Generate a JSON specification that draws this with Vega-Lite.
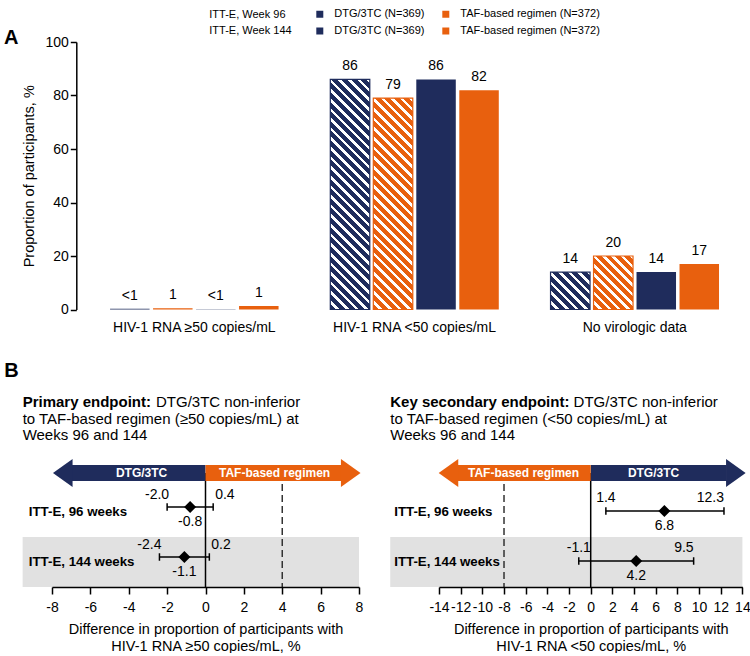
{
  "$schema": "https://vega.github.io/schema/vega-lite/v6.json",
  "padding": {"left": 3, "top": 8, "right": 0, "bottom": 0},
  "spacing": 26,
  "config": {
    "font": "Liberation Sans",
    "view": {"stroke": null},
    "locale": {"number": {"decimal": ".", "thousands": ",", "grouping": [3], "currency": ["$", ""], "minus": "-"}},
    "axis": {"labelColor": "black", "titleColor": "black", "domainColor": "black", "tickColor": "black", "grid": false, "labelOverlap": false},
    "title": {"color": "black", "subtitleColor": "black"}
  },
  "vconcat": [
    {
      "width": 694.3,
      "height": 267.5,
      "title": {"text": "A", "anchor": "start", "fontSize": 20, "fontWeight": "bold", "dx": -18, "offset": -13},
      "data": {"values": [
        {"category": "HIV-1 RNA ≥50 copies/mL", "series": "DTG/3TC (N=369), Week 96", "value": 0.3, "label": "<1"},
        {"category": "HIV-1 RNA ≥50 copies/mL", "series": "TAF-based regimen (N=372), Week 96", "value": 0.5, "label": "1"},
        {"category": "HIV-1 RNA ≥50 copies/mL", "series": "DTG/3TC (N=369), Week 144", "value": 0.1, "label": "<1"},
        {"category": "HIV-1 RNA ≥50 copies/mL", "series": "TAF-based regimen (N=372), Week 144", "value": 1.3, "label": "1"},
        {"category": "HIV-1 RNA <50 copies/mL", "series": "DTG/3TC (N=369), Week 96", "value": 86, "label": "86"},
        {"category": "HIV-1 RNA <50 copies/mL", "series": "TAF-based regimen (N=372), Week 96", "value": 79, "label": "79"},
        {"category": "HIV-1 RNA <50 copies/mL", "series": "DTG/3TC (N=369), Week 144", "value": 86, "label": "86"},
        {"category": "HIV-1 RNA <50 copies/mL", "series": "TAF-based regimen (N=372), Week 144", "value": 82, "label": "82"},
        {"category": "No virologic data", "series": "DTG/3TC (N=369), Week 96", "value": 14, "label": "14"},
        {"category": "No virologic data", "series": "TAF-based regimen (N=372), Week 96", "value": 20, "label": "20"},
        {"category": "No virologic data", "series": "DTG/3TC (N=369), Week 144", "value": 14, "label": "14"},
        {"category": "No virologic data", "series": "TAF-based regimen (N=372), Week 144", "value": 17, "label": "17"}
      ]},
      "encoding": {
        "y": {"field": "value", "type": "quantitative", "scale": {"domain": [0, 100], "nice": false},
              "axis": {"values": [0, 20, 40, 60, 80, 100], "tickCount": 20, "offset": -24.3, "title": "Proportion of participants, %", "titleFontSize": 14.5, "titleFontWeight": "normal", "titlePadding": 8, "labelFontSize": 14, "labelPadding": 2, "tickSize": 6, "tickWidth": 1.5, "domainWidth": 1.5}}
      },
      "resolve": {"scale": {"x": "independent"}},
      "layer": [
        {
          "encoding": {
            "x": {"field": "category", "type": "nominal", "sort": ["HIV-1 RNA ≥50 copies/mL", "HIV-1 RNA <50 copies/mL", "No virologic data"],
                  "scale": {"paddingInner": 0, "paddingOuter": 0.0763, "align": 0.958},
                  "axis": {"title": null, "ticks": false, "domain": false, "labelAngle": 0, "labelFontSize": 14, "labelPadding": 11}},
            "xOffset": {"field": "series", "type": "nominal", "sort": ["DTG/3TC (N=369), Week 96", "TAF-based regimen (N=372), Week 96", "DTG/3TC (N=369), Week 144", "TAF-based regimen (N=372), Week 144"],
                  "scale": {"paddingInner": 0.0814, "paddingOuter": 0.6017}}
          },
          "layer": [
            {
              "mark": {"type": "bar"},
              "encoding": {
                "color": {"field": "series", "type": "nominal",
                  "scale": {"domain": ["DTG/3TC (N=369), Week 96", "DTG/3TC (N=369), Week 144", "TAF-based regimen (N=372), Week 96", "TAF-based regimen (N=372), Week 144"], "range": ["#1f2c5c", "#1f2c5c", "#e8600e", "#e8600e"]},
                  "legend": {
                    "orient": "none", "legendX": 157.3, "legendY": -33.5, "columns": 2, "padding": 0,
                    "title": ["ITT-E, Week 96", "ITT-E, Week 144"], "titleOrient": "left", "titleFontSize": 11, "titleFontWeight": "normal", "titleLineHeight": 16, "titlePadding": 22, "titleColor": "black",
                    "labelFontSize": 11, "labelColor": "black", "labelOffset": 9, "labelExpr": "split(datum.value, ',')[0]",
                    "symbolType": "square", "symbolSize": 49, "symbolStrokeWidth": 0, "rowPadding": 5, "columnPadding": 15
                  }
                }
              }
            },
            {
              "transform": [{"filter": "datum.series == 'DTG/3TC (N=369), Week 96' && datum.category == 'HIV-1 RNA <50 copies/mL'"}],
              "mark": {"type": "bar", "stroke": "#1f2c5c", "strokeWidth": 1.2, "fill": {"gradient": "linear", "x1": 0, "y1": 1, "x2": 0.19542, "y2": -0.13815, "stops": [
                {"offset": 0, "color": "#1f2c5c"}, {"offset": 0.0221, "color": "#1f2c5c"}, {"offset": 0.0221, "color": "#fff"}, {"offset": 0.0357, "color": "#fff"},
                {"offset": 0.0357, "color": "#1f2c5c"}, {"offset": 0.0579, "color": "#1f2c5c"}, {"offset": 0.0579, "color": "#fff"}, {"offset": 0.0714, "color": "#fff"},
                {"offset": 0.0714, "color": "#1f2c5c"}, {"offset": 0.0936, "color": "#1f2c5c"}, {"offset": 0.0936, "color": "#fff"}, {"offset": 0.1071, "color": "#fff"},
                {"offset": 0.1071, "color": "#1f2c5c"}, {"offset": 0.1293, "color": "#1f2c5c"}, {"offset": 0.1293, "color": "#fff"}, {"offset": 0.1429, "color": "#fff"},
                {"offset": 0.1429, "color": "#1f2c5c"}, {"offset": 0.165, "color": "#1f2c5c"}, {"offset": 0.165, "color": "#fff"}, {"offset": 0.1786, "color": "#fff"},
                {"offset": 0.1786, "color": "#1f2c5c"}, {"offset": 0.2007, "color": "#1f2c5c"}, {"offset": 0.2007, "color": "#fff"}, {"offset": 0.2143, "color": "#fff"},
                {"offset": 0.2143, "color": "#1f2c5c"}, {"offset": 0.2364, "color": "#1f2c5c"}, {"offset": 0.2364, "color": "#fff"}, {"offset": 0.25, "color": "#fff"},
                {"offset": 0.25, "color": "#1f2c5c"}, {"offset": 0.2721, "color": "#1f2c5c"}, {"offset": 0.2721, "color": "#fff"}, {"offset": 0.2857, "color": "#fff"},
                {"offset": 0.2857, "color": "#1f2c5c"}, {"offset": 0.3079, "color": "#1f2c5c"}, {"offset": 0.3079, "color": "#fff"}, {"offset": 0.3214, "color": "#fff"},
                {"offset": 0.3214, "color": "#1f2c5c"}, {"offset": 0.3436, "color": "#1f2c5c"}, {"offset": 0.3436, "color": "#fff"}, {"offset": 0.3571, "color": "#fff"},
                {"offset": 0.3571, "color": "#1f2c5c"}, {"offset": 0.3793, "color": "#1f2c5c"}, {"offset": 0.3793, "color": "#fff"}, {"offset": 0.3929, "color": "#fff"},
                {"offset": 0.3929, "color": "#1f2c5c"}, {"offset": 0.415, "color": "#1f2c5c"}, {"offset": 0.415, "color": "#fff"}, {"offset": 0.4286, "color": "#fff"},
                {"offset": 0.4286, "color": "#1f2c5c"}, {"offset": 0.4507, "color": "#1f2c5c"}, {"offset": 0.4507, "color": "#fff"}, {"offset": 0.4643, "color": "#fff"},
                {"offset": 0.4643, "color": "#1f2c5c"}, {"offset": 0.4864, "color": "#1f2c5c"}, {"offset": 0.4864, "color": "#fff"}, {"offset": 0.5, "color": "#fff"},
                {"offset": 0.5, "color": "#1f2c5c"}, {"offset": 0.5221, "color": "#1f2c5c"}, {"offset": 0.5221, "color": "#fff"}, {"offset": 0.5357, "color": "#fff"},
                {"offset": 0.5357, "color": "#1f2c5c"}, {"offset": 0.5579, "color": "#1f2c5c"}, {"offset": 0.5579, "color": "#fff"}, {"offset": 0.5714, "color": "#fff"},
                {"offset": 0.5714, "color": "#1f2c5c"}, {"offset": 0.5936, "color": "#1f2c5c"}, {"offset": 0.5936, "color": "#fff"}, {"offset": 0.6071, "color": "#fff"},
                {"offset": 0.6071, "color": "#1f2c5c"}, {"offset": 0.6293, "color": "#1f2c5c"}, {"offset": 0.6293, "color": "#fff"}, {"offset": 0.6429, "color": "#fff"},
                {"offset": 0.6429, "color": "#1f2c5c"}, {"offset": 0.665, "color": "#1f2c5c"}, {"offset": 0.665, "color": "#fff"}, {"offset": 0.6786, "color": "#fff"},
                {"offset": 0.6786, "color": "#1f2c5c"}, {"offset": 0.7007, "color": "#1f2c5c"}, {"offset": 0.7007, "color": "#fff"}, {"offset": 0.7143, "color": "#fff"},
                {"offset": 0.7143, "color": "#1f2c5c"}, {"offset": 0.7364, "color": "#1f2c5c"}, {"offset": 0.7364, "color": "#fff"}, {"offset": 0.75, "color": "#fff"},
                {"offset": 0.75, "color": "#1f2c5c"}, {"offset": 0.7721, "color": "#1f2c5c"}, {"offset": 0.7721, "color": "#fff"}, {"offset": 0.7857, "color": "#fff"},
                {"offset": 0.7857, "color": "#1f2c5c"}, {"offset": 0.8079, "color": "#1f2c5c"}, {"offset": 0.8079, "color": "#fff"}, {"offset": 0.8214, "color": "#fff"},
                {"offset": 0.8214, "color": "#1f2c5c"}, {"offset": 0.8436, "color": "#1f2c5c"}, {"offset": 0.8436, "color": "#fff"}, {"offset": 0.8571, "color": "#fff"},
                {"offset": 0.8571, "color": "#1f2c5c"}, {"offset": 0.8793, "color": "#1f2c5c"}, {"offset": 0.8793, "color": "#fff"}, {"offset": 0.8929, "color": "#fff"},
                {"offset": 0.8929, "color": "#1f2c5c"}, {"offset": 0.915, "color": "#1f2c5c"}, {"offset": 0.915, "color": "#fff"}, {"offset": 0.9286, "color": "#fff"},
                {"offset": 0.9286, "color": "#1f2c5c"}, {"offset": 0.9507, "color": "#1f2c5c"}, {"offset": 0.9507, "color": "#fff"}, {"offset": 0.9643, "color": "#fff"},
                {"offset": 0.9643, "color": "#1f2c5c"}, {"offset": 0.9864, "color": "#1f2c5c"}, {"offset": 0.9864, "color": "#fff"}, {"offset": 1, "color": "#fff"}
              ]}}
            },
            {
              "transform": [{"filter": "datum.series == 'TAF-based regimen (N=372), Week 96' && datum.category == 'HIV-1 RNA <50 copies/mL'"}],
              "mark": {"type": "bar", "stroke": "#e8600e", "strokeWidth": 1.2, "fill": {"gradient": "linear", "x1": 0, "y1": 1, "x2": 0.21436, "y2": -0.14685, "stops": [
                {"offset": 0, "color": "#e8600e"}, {"offset": 0.0238, "color": "#e8600e"}, {"offset": 0.0238, "color": "#fff"}, {"offset": 0.0385, "color": "#fff"},
                {"offset": 0.0385, "color": "#e8600e"}, {"offset": 0.0623, "color": "#e8600e"}, {"offset": 0.0623, "color": "#fff"}, {"offset": 0.0769, "color": "#fff"},
                {"offset": 0.0769, "color": "#e8600e"}, {"offset": 0.1008, "color": "#e8600e"}, {"offset": 0.1008, "color": "#fff"}, {"offset": 0.1154, "color": "#fff"},
                {"offset": 0.1154, "color": "#e8600e"}, {"offset": 0.1392, "color": "#e8600e"}, {"offset": 0.1392, "color": "#fff"}, {"offset": 0.1538, "color": "#fff"},
                {"offset": 0.1538, "color": "#e8600e"}, {"offset": 0.1777, "color": "#e8600e"}, {"offset": 0.1777, "color": "#fff"}, {"offset": 0.1923, "color": "#fff"},
                {"offset": 0.1923, "color": "#e8600e"}, {"offset": 0.2162, "color": "#e8600e"}, {"offset": 0.2162, "color": "#fff"}, {"offset": 0.2308, "color": "#fff"},
                {"offset": 0.2308, "color": "#e8600e"}, {"offset": 0.2546, "color": "#e8600e"}, {"offset": 0.2546, "color": "#fff"}, {"offset": 0.2692, "color": "#fff"},
                {"offset": 0.2692, "color": "#e8600e"}, {"offset": 0.2931, "color": "#e8600e"}, {"offset": 0.2931, "color": "#fff"}, {"offset": 0.3077, "color": "#fff"},
                {"offset": 0.3077, "color": "#e8600e"}, {"offset": 0.3315, "color": "#e8600e"}, {"offset": 0.3315, "color": "#fff"}, {"offset": 0.3462, "color": "#fff"},
                {"offset": 0.3462, "color": "#e8600e"}, {"offset": 0.37, "color": "#e8600e"}, {"offset": 0.37, "color": "#fff"}, {"offset": 0.3846, "color": "#fff"},
                {"offset": 0.3846, "color": "#e8600e"}, {"offset": 0.4085, "color": "#e8600e"}, {"offset": 0.4085, "color": "#fff"}, {"offset": 0.4231, "color": "#fff"},
                {"offset": 0.4231, "color": "#e8600e"}, {"offset": 0.4469, "color": "#e8600e"}, {"offset": 0.4469, "color": "#fff"}, {"offset": 0.4615, "color": "#fff"},
                {"offset": 0.4615, "color": "#e8600e"}, {"offset": 0.4854, "color": "#e8600e"}, {"offset": 0.4854, "color": "#fff"}, {"offset": 0.5, "color": "#fff"},
                {"offset": 0.5, "color": "#e8600e"}, {"offset": 0.5238, "color": "#e8600e"}, {"offset": 0.5238, "color": "#fff"}, {"offset": 0.5385, "color": "#fff"},
                {"offset": 0.5385, "color": "#e8600e"}, {"offset": 0.5623, "color": "#e8600e"}, {"offset": 0.5623, "color": "#fff"}, {"offset": 0.5769, "color": "#fff"},
                {"offset": 0.5769, "color": "#e8600e"}, {"offset": 0.6008, "color": "#e8600e"}, {"offset": 0.6008, "color": "#fff"}, {"offset": 0.6154, "color": "#fff"},
                {"offset": 0.6154, "color": "#e8600e"}, {"offset": 0.6392, "color": "#e8600e"}, {"offset": 0.6392, "color": "#fff"}, {"offset": 0.6538, "color": "#fff"},
                {"offset": 0.6538, "color": "#e8600e"}, {"offset": 0.6777, "color": "#e8600e"}, {"offset": 0.6777, "color": "#fff"}, {"offset": 0.6923, "color": "#fff"},
                {"offset": 0.6923, "color": "#e8600e"}, {"offset": 0.7162, "color": "#e8600e"}, {"offset": 0.7162, "color": "#fff"}, {"offset": 0.7308, "color": "#fff"},
                {"offset": 0.7308, "color": "#e8600e"}, {"offset": 0.7546, "color": "#e8600e"}, {"offset": 0.7546, "color": "#fff"}, {"offset": 0.7692, "color": "#fff"},
                {"offset": 0.7692, "color": "#e8600e"}, {"offset": 0.7931, "color": "#e8600e"}, {"offset": 0.7931, "color": "#fff"}, {"offset": 0.8077, "color": "#fff"},
                {"offset": 0.8077, "color": "#e8600e"}, {"offset": 0.8315, "color": "#e8600e"}, {"offset": 0.8315, "color": "#fff"}, {"offset": 0.8462, "color": "#fff"},
                {"offset": 0.8462, "color": "#e8600e"}, {"offset": 0.87, "color": "#e8600e"}, {"offset": 0.87, "color": "#fff"}, {"offset": 0.8846, "color": "#fff"},
                {"offset": 0.8846, "color": "#e8600e"}, {"offset": 0.9085, "color": "#e8600e"}, {"offset": 0.9085, "color": "#fff"}, {"offset": 0.9231, "color": "#fff"},
                {"offset": 0.9231, "color": "#e8600e"}, {"offset": 0.9469, "color": "#e8600e"}, {"offset": 0.9469, "color": "#fff"}, {"offset": 0.9615, "color": "#fff"},
                {"offset": 0.9615, "color": "#e8600e"}, {"offset": 0.9854, "color": "#e8600e"}, {"offset": 0.9854, "color": "#fff"}, {"offset": 1, "color": "#fff"}
              ]}}
            },
            {
              "transform": [{"filter": "datum.series == 'DTG/3TC (N=369), Week 96' && datum.category == 'No virologic data'"}],
              "mark": {"type": "bar", "stroke": "#1f2c5c", "strokeWidth": 1.2, "fill": {"gradient": "linear", "x1": 0, "y1": 1, "x2": 1.02591, "y2": 0.02733, "stops": [
                {"offset": 0, "color": "#1f2c5c"}, {"offset": 0.0775, "color": "#1f2c5c"}, {"offset": 0.0775, "color": "#fff"}, {"offset": 0.125, "color": "#fff"},
                {"offset": 0.125, "color": "#1f2c5c"}, {"offset": 0.2025, "color": "#1f2c5c"}, {"offset": 0.2025, "color": "#fff"}, {"offset": 0.25, "color": "#fff"},
                {"offset": 0.25, "color": "#1f2c5c"}, {"offset": 0.3275, "color": "#1f2c5c"}, {"offset": 0.3275, "color": "#fff"}, {"offset": 0.375, "color": "#fff"},
                {"offset": 0.375, "color": "#1f2c5c"}, {"offset": 0.4525, "color": "#1f2c5c"}, {"offset": 0.4525, "color": "#fff"}, {"offset": 0.5, "color": "#fff"},
                {"offset": 0.5, "color": "#1f2c5c"}, {"offset": 0.5775, "color": "#1f2c5c"}, {"offset": 0.5775, "color": "#fff"}, {"offset": 0.625, "color": "#fff"},
                {"offset": 0.625, "color": "#1f2c5c"}, {"offset": 0.7025, "color": "#1f2c5c"}, {"offset": 0.7025, "color": "#fff"}, {"offset": 0.75, "color": "#fff"},
                {"offset": 0.75, "color": "#1f2c5c"}, {"offset": 0.8275, "color": "#1f2c5c"}, {"offset": 0.8275, "color": "#fff"}, {"offset": 0.875, "color": "#fff"},
                {"offset": 0.875, "color": "#1f2c5c"}, {"offset": 0.9525, "color": "#1f2c5c"}, {"offset": 0.9525, "color": "#fff"}, {"offset": 1, "color": "#fff"}
              ]}}
            },
            {
              "transform": [{"filter": "datum.series == 'TAF-based regimen (N=372), Week 96' && datum.category == 'No virologic data'"}],
              "mark": {"type": "bar", "stroke": "#e8600e", "strokeWidth": 1.2, "fill": {"gradient": "linear", "x1": 0, "y1": 1, "x2": 0.83064, "y2": -0.12505, "stops": [
                {"offset": 0, "color": "#e8600e"}, {"offset": 0.062, "color": "#e8600e"}, {"offset": 0.062, "color": "#fff"}, {"offset": 0.1, "color": "#fff"},
                {"offset": 0.1, "color": "#e8600e"}, {"offset": 0.162, "color": "#e8600e"}, {"offset": 0.162, "color": "#fff"}, {"offset": 0.2, "color": "#fff"},
                {"offset": 0.2, "color": "#e8600e"}, {"offset": 0.262, "color": "#e8600e"}, {"offset": 0.262, "color": "#fff"}, {"offset": 0.3, "color": "#fff"},
                {"offset": 0.3, "color": "#e8600e"}, {"offset": 0.362, "color": "#e8600e"}, {"offset": 0.362, "color": "#fff"}, {"offset": 0.4, "color": "#fff"},
                {"offset": 0.4, "color": "#e8600e"}, {"offset": 0.462, "color": "#e8600e"}, {"offset": 0.462, "color": "#fff"}, {"offset": 0.5, "color": "#fff"},
                {"offset": 0.5, "color": "#e8600e"}, {"offset": 0.562, "color": "#e8600e"}, {"offset": 0.562, "color": "#fff"}, {"offset": 0.6, "color": "#fff"},
                {"offset": 0.6, "color": "#e8600e"}, {"offset": 0.662, "color": "#e8600e"}, {"offset": 0.662, "color": "#fff"}, {"offset": 0.7, "color": "#fff"},
                {"offset": 0.7, "color": "#e8600e"}, {"offset": 0.762, "color": "#e8600e"}, {"offset": 0.762, "color": "#fff"}, {"offset": 0.8, "color": "#fff"},
                {"offset": 0.8, "color": "#e8600e"}, {"offset": 0.862, "color": "#e8600e"}, {"offset": 0.862, "color": "#fff"}, {"offset": 0.9, "color": "#fff"},
                {"offset": 0.9, "color": "#e8600e"}, {"offset": 0.962, "color": "#e8600e"}, {"offset": 0.962, "color": "#fff"}, {"offset": 1, "color": "#fff"}
              ]}}
            },
            {
              "mark": {"type": "text", "fontSize": 14, "baseline": "alphabetic", "dy": -9, "color": "black"},
              "encoding": {"text": {"field": "label", "type": "nominal"}}
            }
          ]
        },
        {
          "data": {"values": [{"from": 0.035, "to": 1}]},
          "mark": {"type": "rule", "color": "black", "strokeWidth": 1.5},
          "encoding": {
            "x": {"field": "from", "type": "quantitative", "scale": {"domain": [0, 1], "nice": false}, "axis": null},
            "x2": {"field": "to"},
            "y": {"datum": 0}
          }
        }
      ]
    },
    {
      "title": {"text": "B", "anchor": "start", "fontSize": 20, "fontWeight": "bold", "dx": -18.3, "offset": 14.3},
      "spacing": 27,
      "hconcat": [
        {
          "width": 307,
          "height": 150,
          "title": {"text": "Primary endpoint:", "subtitle": ["\u200b\u00a0\u00a0\u00a0\u00a0\u00a0\u00a0\u00a0\u00a0\u00a0\u00a0\u00a0\u00a0\u00a0\u00a0\u00a0\u00a0\u00a0\u00a0\u00a0\u00a0\u00a0\u00a0\u00a0\u00a0\u00a0\u00a0\u00a0\u00a0\u00a0\u00a0\u00a0\u00a0DTG/3TC non-inferior", "to TAF-based regimen (≥50 copies/mL) at", "Weeks 96 and 144"],
            "anchor": "start", "fontSize": 15, "fontWeight": "bold", "subtitleFontSize": 15, "subtitleFontWeight": "normal", "subtitleLineHeight": 16.3, "subtitlePadding": -15, "offset": -6},
          "data": {"values": [
            {"row": "ITT-E, 96 weeks", "est": -0.8, "lo": -2.0, "hi": 0.4},
            {"row": "ITT-E, 144 weeks", "est": -1.1, "lo": -2.4, "hi": 0.2}
          ]},
          "layer": [
            {
              "data": {"values": [{"row": "ITT-E, 144 weeks", "from": -9.53, "to": 8}]},
              "mark": {"type": "bar", "color": "#e1e1e1"},
              "encoding": {
                "y": {"field": "row", "type": "nominal", "scale": {"domain": ["arrow", "ITT-E, 96 weeks", "ITT-E, 144 weeks"], "paddingInner": 0, "paddingOuter": 0},
                      "axis": {"title": null, "domain": false, "ticks": false, "labelAlign": "left", "labelPadding": 23.7, "labelFontSize": 13.3, "labelFontWeight": "bold", "labelColor": "black", "labelExpr": "datum.value == 'arrow' ? '' : datum.value", "zindex": 1}},
                "x": {"field": "from", "type": "quantitative", "scale": {"domain": [-8, 8], "nice": false},
                      "axis": {"values": [-8, -6, -4, -2, 0, 2, 4, 6, 8], "tickCount": 20, "title": ["Difference in proportion of participants with", "HIV-1 RNA ≥50 copies/mL, %"], "titleFontSize": 14.5, "titleFontWeight": "normal", "titleLineHeight": 17, "titlePadding": 8, "labelFontSize": 14, "labelPadding": 6, "labelFlush": false, "labelOverlap": false, "tickSize": 7, "tickWidth": 1.5, "domainWidth": 1.5, "zindex": 1}},
                "x2": {"field": "to"}
              }
            },
            {
              "data": {"values": [
                {"line": "no difference", "at": 0, "from": "arrow", "to": "ITT-E, 144 weeks"},
                {"line": "non-inferiority margin", "at": 4, "from": "arrow", "to": "ITT-E, 144 weeks"}
              ]},
              "layer": [
                {
                  "transform": [{"filter": "datum.line == 'no difference'"}],
                  "mark": {"type": "rule", "color": "black", "strokeWidth": 1.5, "yOffset": 11, "y2Offset": 25},
                  "encoding": {"x": {"field": "at", "type": "quantitative"}, "y": {"field": "from", "type": "nominal"}, "y2": {"field": "to"}}
                },
                {
                  "transform": [{"filter": "datum.line == 'non-inferiority margin'"}],
                  "mark": {"type": "rule", "color": "#333333", "strokeWidth": 1.5, "strokeDash": [7, 4], "yOffset": 11, "y2Offset": 25},
                  "encoding": {"x": {"field": "at", "type": "quantitative"}, "y": {"field": "from", "type": "nominal"}, "y2": {"field": "to"}}
                }
              ]
            },
            {
              "data": {"values": [
                {"row": "arrow", "side": "DTG/3TC", "start": 0, "base": -7.0, "tip": -7.95, "mid": -3.33},
                {"row": "arrow", "side": "TAF-based regimen", "start": 0, "base": 7.1, "tip": 8.08, "mid": 3.6}
              ]},
              "layer": [
                {
                  "transform": [{"filter": "datum.side == 'DTG/3TC'"}],
                  "mark": {"type": "bar", "color": "#1f2c5c", "height": 16, "yOffset": 11},
                  "encoding": {"y": {"field": "row", "type": "nominal"}, "x": {"field": "start", "type": "quantitative"}, "x2": {"field": "base"}}
                },
                {
                  "transform": [{"filter": "datum.side == 'TAF-based regimen'"}],
                  "mark": {"type": "bar", "color": "#e8600e", "height": 16, "yOffset": 11},
                  "encoding": {"y": {"field": "row", "type": "nominal"}, "x": {"field": "start", "type": "quantitative"}, "x2": {"field": "base"}}
                },
                {
                  "transform": [{"filter": "datum.side == 'DTG/3TC'"}],
                  "mark": {"type": "point", "shape": "M0,0L1.4,-1L1.4,1Z", "filled": true, "size": 784, "color": "#1f2c5c", "opacity": 1, "strokeWidth": 0, "yOffset": 11},
                  "encoding": {"y": {"field": "row", "type": "nominal"}, "x": {"field": "tip", "type": "quantitative"}}
                },
                {
                  "transform": [{"filter": "datum.side == 'TAF-based regimen'"}],
                  "mark": {"type": "point", "shape": "M0,0L-1.4,-1L-1.4,1Z", "filled": true, "size": 784, "color": "#e8600e", "opacity": 1, "strokeWidth": 0, "yOffset": 11},
                  "encoding": {"y": {"field": "row", "type": "nominal"}, "x": {"field": "tip", "type": "quantitative"}}
                },
                {
                  "mark": {"type": "text", "color": "white", "fontWeight": "bold", "fontSize": 12, "baseline": "middle", "dy": 11},
                  "encoding": {"y": {"field": "row", "type": "nominal"}, "x": {"field": "mid", "type": "quantitative"}, "text": {"field": "side", "type": "nominal"}}
                }
              ]
            },
            {
              "mark": {"type": "rule", "color": "black", "strokeWidth": 1.5, "yOffset": -5},
              "encoding": {"y": {"field": "row", "type": "nominal"}, "x": {"field": "lo", "type": "quantitative"}, "x2": {"field": "hi"}}
            },
            {
              "mark": {"type": "point", "shape": "M0,-1L0,1", "filled": false, "size": 56, "stroke": "black", "strokeWidth": 1.5, "opacity": 1, "yOffset": -5},
              "encoding": {"y": {"field": "row", "type": "nominal"}, "x": {"field": "lo", "type": "quantitative"}}
            },
            {
              "mark": {"type": "point", "shape": "M0,-1L0,1", "filled": false, "size": 56, "stroke": "black", "strokeWidth": 1.5, "opacity": 1, "yOffset": -5},
              "encoding": {"y": {"field": "row", "type": "nominal"}, "x": {"field": "hi", "type": "quantitative"}}
            },
            {
              "mark": {"type": "point", "shape": "diamond", "filled": true, "size": 144, "color": "black", "opacity": 1, "yOffset": -5},
              "encoding": {"y": {"field": "row", "type": "nominal"}, "x": {"field": "est", "type": "quantitative"}}
            },
            {
              "mark": {"type": "text", "align": "right", "baseline": "middle", "dx": 2, "dy": -17, "fontSize": 14, "color": "black"},
              "encoding": {"y": {"field": "row", "type": "nominal"}, "x": {"field": "lo", "type": "quantitative"}, "text": {"field": "lo", "type": "quantitative", "format": ".1f"}}
            },
            {
              "mark": {"type": "text", "align": "left", "baseline": "middle", "dx": 2, "dy": -17, "fontSize": 14, "color": "black"},
              "encoding": {"y": {"field": "row", "type": "nominal"}, "x": {"field": "hi", "type": "quantitative"}, "text": {"field": "hi", "type": "quantitative", "format": ".1f"}}
            },
            {
              "mark": {"type": "text", "align": "center", "baseline": "middle", "dy": 10, "fontSize": 14, "color": "black"},
              "encoding": {"y": {"field": "row", "type": "nominal"}, "x": {"field": "est", "type": "quantitative"}, "text": {"field": "est", "type": "quantitative", "format": ".1f"}}
            }
          ]
        },
        {
          "width": 303.4,
          "height": 150,
          "title": {"text": "Key secondary endpoint:", "subtitle": ["\u200b\u00a0\u00a0\u00a0\u00a0\u00a0\u00a0\u00a0\u00a0\u00a0\u00a0\u00a0\u00a0\u00a0\u00a0\u00a0\u00a0\u00a0\u00a0\u00a0\u00a0\u00a0\u00a0\u00a0\u00a0\u00a0\u00a0\u00a0\u00a0\u00a0\u00a0\u00a0\u00a0\u00a0\u00a0\u00a0\u00a0\u00a0\u00a0\u00a0\u00a0\u00a0\u00a0\u00a0\u00a0DTG/3TC non-inferior", "to TAF-based regimen (<50 copies/mL) at", "Weeks 96 and 144"],
            "anchor": "start", "fontSize": 15, "fontWeight": "bold", "subtitleFontSize": 15, "subtitleFontWeight": "normal", "subtitleLineHeight": 16.3, "subtitlePadding": -15, "offset": -6},
          "data": {"values": [
            {"row": "ITT-E, 96 weeks", "est": 6.8, "lo": 1.4, "hi": 12.3},
            {"row": "ITT-E, 144 weeks", "est": 4.2, "lo": -1.1, "hi": 9.5}
          ]},
          "layer": [
            {
              "data": {"values": [{"row": "ITT-E, 144 weeks", "from": -18.5, "to": 14}]},
              "mark": {"type": "bar", "color": "#e1e1e1"},
              "encoding": {
                "y": {"field": "row", "type": "nominal", "scale": {"domain": ["arrow", "ITT-E, 96 weeks", "ITT-E, 144 weeks"], "paddingInner": 0, "paddingOuter": 0},
                      "axis": {"title": null, "domain": false, "ticks": false, "labelAlign": "left", "labelPadding": 45.3, "labelFontSize": 13.3, "labelFontWeight": "bold", "labelColor": "black", "labelExpr": "datum.value == 'arrow' ? '' : datum.value", "zindex": 1}},
                "x": {"field": "from", "type": "quantitative", "scale": {"domain": [-14, 14], "nice": false},
                      "axis": {"values": [-14, -12, -10, -8, -6, -4, -2, 0, 2, 4, 6, 8, 10, 12, 14], "tickCount": 20, "title": ["Difference in proportion of participants with", "HIV-1 RNA <50 copies/mL, %"], "titleFontSize": 14.5, "titleFontWeight": "normal", "titleLineHeight": 17, "titlePadding": 8, "labelFontSize": 14, "labelPadding": 6, "labelFlush": false, "labelOverlap": false, "tickSize": 7, "tickWidth": 1.5, "domainWidth": 1.5, "zindex": 1}},
                "x2": {"field": "to"}
              }
            },
            {
              "data": {"values": [
                {"line": "no difference", "at": 0, "from": "arrow", "to": "ITT-E, 144 weeks"},
                {"line": "non-inferiority margin", "at": -8, "from": "arrow", "to": "ITT-E, 144 weeks"}
              ]},
              "layer": [
                {
                  "transform": [{"filter": "datum.line == 'no difference'"}],
                  "mark": {"type": "rule", "color": "black", "strokeWidth": 1.5, "yOffset": 11, "y2Offset": 25},
                  "encoding": {"x": {"field": "at", "type": "quantitative"}, "y": {"field": "from", "type": "nominal"}, "y2": {"field": "to"}}
                },
                {
                  "transform": [{"filter": "datum.line == 'non-inferiority margin'"}],
                  "mark": {"type": "rule", "color": "#333333", "strokeWidth": 1.5, "strokeDash": [7, 4], "yOffset": 11, "y2Offset": 25},
                  "encoding": {"x": {"field": "at", "type": "quantitative"}, "y": {"field": "from", "type": "nominal"}, "y2": {"field": "to"}}
                }
              ]
            },
            {
              "data": {"values": [
                {"row": "arrow", "side": "TAF-based regimen", "start": 0, "base": -12.3, "tip": -14.03, "mid": -6.2},
                {"row": "arrow", "side": "DTG/3TC", "start": 0, "base": 12.55, "tip": 14.3, "mid": 5.8}
              ]},
              "layer": [
                {
                  "transform": [{"filter": "datum.side == 'DTG/3TC'"}],
                  "mark": {"type": "bar", "color": "#1f2c5c", "height": 16, "yOffset": 11},
                  "encoding": {"y": {"field": "row", "type": "nominal"}, "x": {"field": "start", "type": "quantitative"}, "x2": {"field": "base"}}
                },
                {
                  "transform": [{"filter": "datum.side == 'TAF-based regimen'"}],
                  "mark": {"type": "bar", "color": "#e8600e", "height": 16, "yOffset": 11},
                  "encoding": {"y": {"field": "row", "type": "nominal"}, "x": {"field": "start", "type": "quantitative"}, "x2": {"field": "base"}}
                },
                {
                  "transform": [{"filter": "datum.side == 'TAF-based regimen'"}],
                  "mark": {"type": "point", "shape": "M0,0L1.4,-1L1.4,1Z", "filled": true, "size": 784, "color": "#e8600e", "opacity": 1, "strokeWidth": 0, "yOffset": 11},
                  "encoding": {"y": {"field": "row", "type": "nominal"}, "x": {"field": "tip", "type": "quantitative"}}
                },
                {
                  "transform": [{"filter": "datum.side == 'DTG/3TC'"}],
                  "mark": {"type": "point", "shape": "M0,0L-1.4,-1L-1.4,1Z", "filled": true, "size": 784, "color": "#1f2c5c", "opacity": 1, "strokeWidth": 0, "yOffset": 11},
                  "encoding": {"y": {"field": "row", "type": "nominal"}, "x": {"field": "tip", "type": "quantitative"}}
                },
                {
                  "mark": {"type": "text", "color": "white", "fontWeight": "bold", "fontSize": 12, "baseline": "middle", "dy": 11},
                  "encoding": {"y": {"field": "row", "type": "nominal"}, "x": {"field": "mid", "type": "quantitative"}, "text": {"field": "side", "type": "nominal"}}
                }
              ]
            },
            {
              "mark": {"type": "rule", "color": "black", "strokeWidth": 1.5, "yOffset": -1},
              "encoding": {"y": {"field": "row", "type": "nominal"}, "x": {"field": "lo", "type": "quantitative"}, "x2": {"field": "hi"}}
            },
            {
              "mark": {"type": "point", "shape": "M0,-1L0,1", "filled": false, "size": 56, "stroke": "black", "strokeWidth": 1.5, "opacity": 1, "yOffset": -1},
              "encoding": {"y": {"field": "row", "type": "nominal"}, "x": {"field": "lo", "type": "quantitative"}}
            },
            {
              "mark": {"type": "point", "shape": "M0,-1L0,1", "filled": false, "size": 56, "stroke": "black", "strokeWidth": 1.5, "opacity": 1, "yOffset": -1},
              "encoding": {"y": {"field": "row", "type": "nominal"}, "x": {"field": "hi", "type": "quantitative"}}
            },
            {
              "mark": {"type": "point", "shape": "diamond", "filled": true, "size": 144, "color": "black", "opacity": 1, "yOffset": -1},
              "encoding": {"y": {"field": "row", "type": "nominal"}, "x": {"field": "est", "type": "quantitative"}}
            },
            {
              "mark": {"type": "text", "align": "center", "baseline": "middle", "dy": -14, "fontSize": 14, "color": "black"},
              "encoding": {"y": {"field": "row", "type": "nominal"}, "x": {"field": "lo", "type": "quantitative"}, "text": {"field": "lo", "type": "quantitative", "format": ".1f"}}
            },
            {
              "mark": {"type": "text", "align": "right", "baseline": "middle", "dy": -14, "fontSize": 14, "color": "black"},
              "encoding": {"y": {"field": "row", "type": "nominal"}, "x": {"field": "hi", "type": "quantitative"}, "text": {"field": "hi", "type": "quantitative", "format": ".1f"}}
            },
            {
              "mark": {"type": "text", "align": "center", "baseline": "middle", "dy": 14, "fontSize": 14, "color": "black"},
              "encoding": {"y": {"field": "row", "type": "nominal"}, "x": {"field": "est", "type": "quantitative"}, "text": {"field": "est", "type": "quantitative", "format": ".1f"}}
            }
          ]
        }
      ]
    }
  ]
}
